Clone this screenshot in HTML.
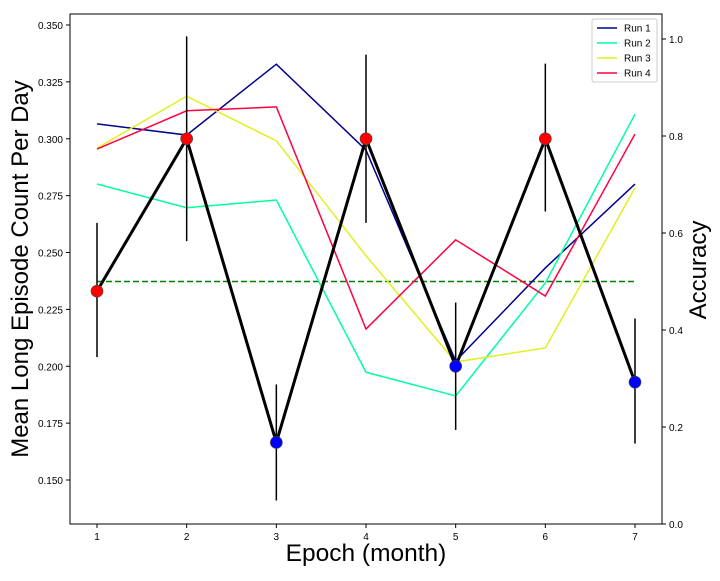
<!DOCTYPE html>
<html><head><meta charset="utf-8"><style>
body{margin:0;background:#fff;font-family:"Liberation Sans",sans-serif}
svg text{font-family:"Liberation Sans",sans-serif}
</style></head><body>
<svg id="chart" width="720" height="576" xmlns="http://www.w3.org/2000/svg">
<rect width="720" height="576" fill="#fff"/>
<g id="g"></g>
</svg>
<script>
const epochs=[1,2,3,4,5,6,7];
const meanCount=[0.233,0.300,0.1665,0.300,0.200,0.300,0.193];
const errLow=[0.204,0.255,0.141,0.263,0.172,0.268,0.166];
const errHigh=[0.263,0.345,0.192,0.337,0.228,0.333,0.221];
const markerColors=["red","red","blue","red","blue","red","blue"];
const run1=[0.825,0.802,0.948,0.771,0.336,0.528,0.701];
const run2=[0.701,0.652,0.668,0.313,0.264,0.497,0.845];
const run3=[0.775,0.882,0.790,0.553,0.334,0.363,0.693];
const run4=[0.773,0.852,0.860,0.402,0.586,0.470,0.804];
const runNames=["Run 1","Run 2","Run 3","Run 4"];
const runColors=["#00008b","#00ffa0","#e0f020","#ff0040"];
const threshold=0.5;
const leftTicks=[0.150,0.175,0.200,0.225,0.250,0.275,0.300,0.325,0.350];
const rightTicks=[0.0,0.2,0.4,0.6,0.8,1.0];

const NS="http://www.w3.org/2000/svg";
const g=document.getElementById('g');
const L=70,R=662,T=14,B=524;
const xs=v=>97+(v-1)*(635-97)/6;
const yl=v=>480-(v-0.150)*(480-25)/0.2;
const yr=v=>524-v*485;
function el(tag,attrs,parent){const e=document.createElementNS(NS,tag);for(const k in attrs)e.setAttribute(k,attrs[k]);(parent||g).appendChild(e);return e;}
function txt(s,attrs){const e=el('text',attrs);e.textContent=s;return e;}

const th=el('line',{x1:97,x2:635,y1:yr(threshold),y2:yr(threshold),stroke:"green","stroke-width":1.5,"stroke-dasharray":"6,3"});



const runs=[run1,run2,run3,run4];
runs.forEach((r,i)=>{
  const p=el('polyline',{points:r.map((v,j)=>xs(epochs[j])+","+yr(v)).join(" "),fill:"none",stroke:runColors[i],"stroke-width":1.5});
  
  
});

epochs.forEach((e,i)=>{
  const l=el('line',{x1:xs(e),x2:xs(e),y1:yl(errLow[i]),y2:yl(errHigh[i]),stroke:"#000","stroke-width":1.5});
  
  
});
const ml=el('polyline',{points:meanCount.map((v,j)=>xs(epochs[j])+","+yl(v)).join(" "),fill:"none",stroke:"#000","stroke-width":3});


meanCount.forEach((v,i)=>{
  const c=el('circle',{cx:xs(epochs[i]),cy:yl(v),r:6,fill:markerColors[i],stroke:"#444","stroke-width":0.6});
  
  
});

const fr=el('rect',{x:L,y:T,width:R-L,height:B-T,fill:"none",stroke:"#000","stroke-width":1});



leftTicks.forEach(t=>{
  el('line',{x1:L-4,x2:L,y1:yl(t),y2:yl(t),stroke:"#000"});
  const s=txt(t.toFixed(3),{x:L-7,y:yl(t)+4,"font-size":10,"text-anchor":"end"});
  
  
});
rightTicks.forEach(t=>{
  el('line',{x1:R,x2:R+4,y1:yr(t),y2:yr(t),stroke:"#000"});
  const s=txt(t.toFixed(1),{x:R+7,y:yr(t)+4,"font-size":10});
  
  
});
epochs.forEach(e=>{
  el('line',{x1:xs(e),x2:xs(e),y1:B,y2:B+4,stroke:"#000"});
  const s=txt(String(e),{x:xs(e),y:B+16,"font-size":10,"text-anchor":"middle"});
  
  
});
const xt=txt("Epoch (month)",{x:366,y:561,"font-size":24.5,"text-anchor":"middle"});


const ylt=txt("Mean Long Episode Count Per Day",{x:0,y:0,"font-size":24,"text-anchor":"middle",transform:"translate(28,269) rotate(-90)"});


const yrt=txt("Accuracy",{x:0,y:0,"font-size":24,"text-anchor":"middle",transform:"translate(706,270) rotate(-90)"});



const lg=el('rect',{x:592,y:19,width:65,height:63,fill:"#fff",stroke:"#ccc",rx:2});


runNames.forEach((n,i)=>{
  const y=28+i*15;
  el('line',{x1:597,x2:617,y1:y,y2:y,stroke:runColors[i],"stroke-width":1.5});
  const s=txt(n,{x:624,y:y+3.5,"font-size":10});
  
  
});
</script>
</body></html>
